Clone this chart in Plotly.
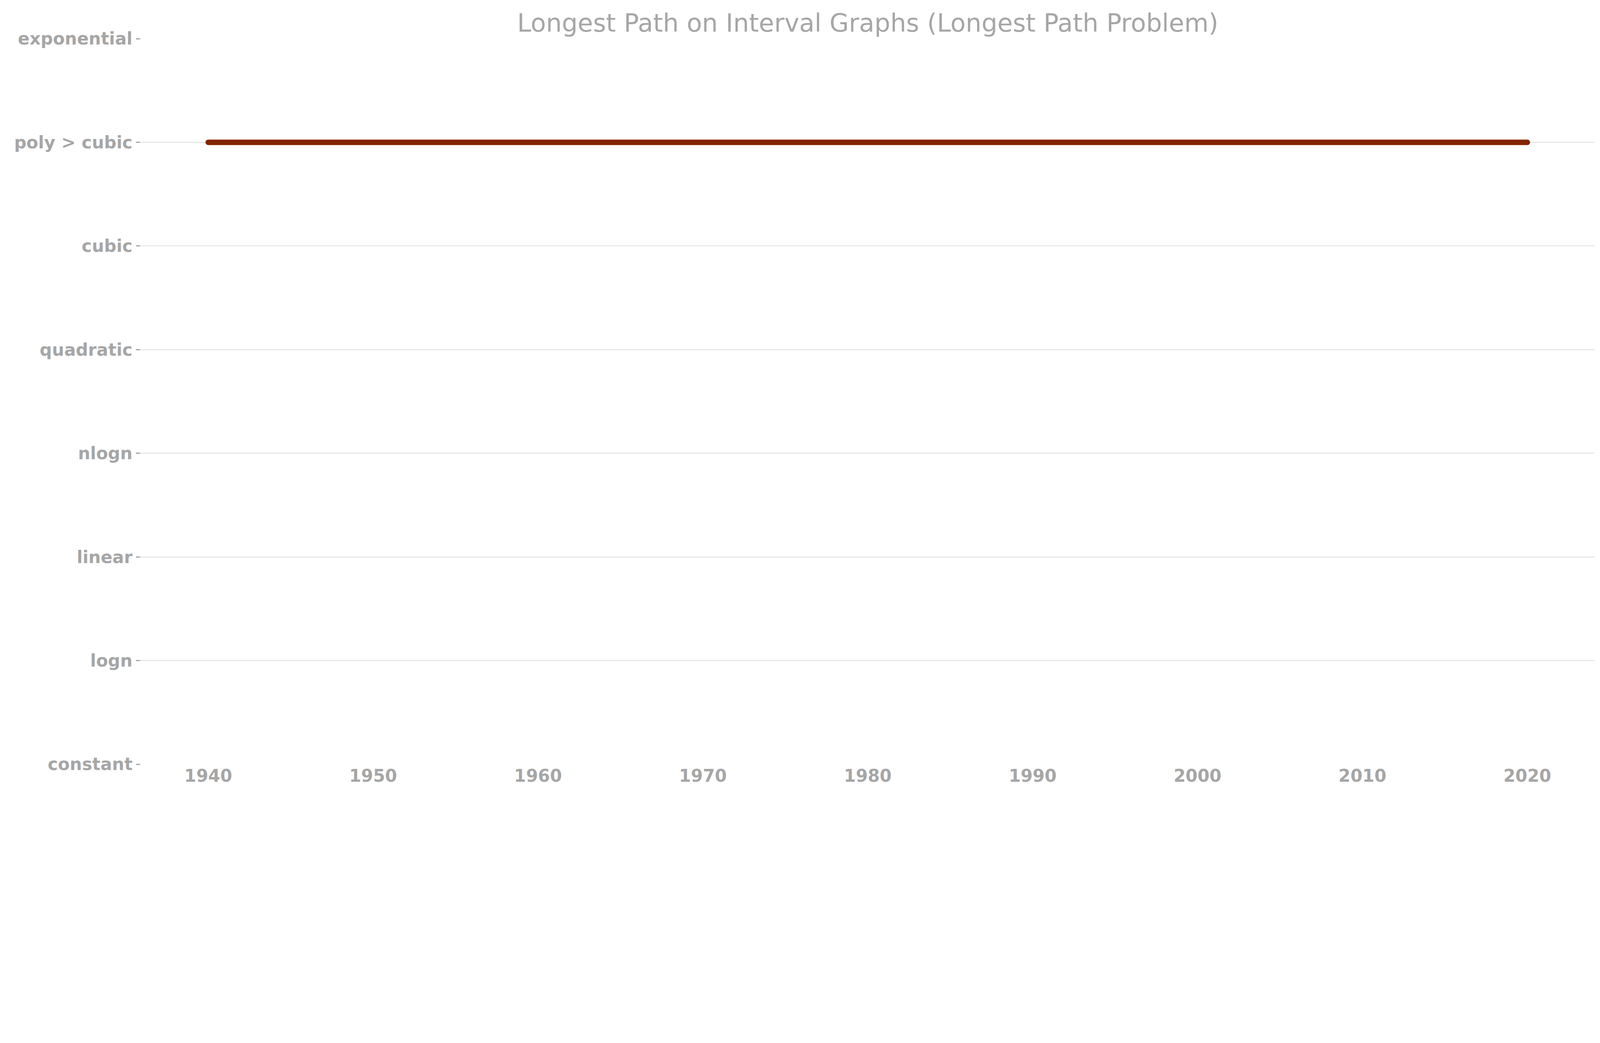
import plotly.graph_objects as go

# complexity classes, bottom to top
levels = ["constant", "logn", "linear", "nlogn", "quadratic", "cubic",
          "poly > cubic", "exponential"]

# best known running time over the years
years = [1940, 2020]
complexity = ["poly > cubic", "poly > cubic"]

grey = "#a6a6a6"
line_col = "#832400"

fig = go.Figure()
fig.add_trace(go.Scatter(
    x=years,
    y=complexity,
    mode="lines+markers",
    line=dict(color=line_col, width=14),
    marker=dict(color=line_col, size=14),
    showlegend=False,
))

fig.update_layout(
    width=4096,
    height=2037,
    paper_bgcolor="white",
    plot_bgcolor="white",
    margin=dict(l=352, r=21, t=91, b=88),
    font=dict(family="DejaVu Sans", color=grey),
    title=dict(
        text="Longest Path on Interval Graphs (Longest Path Problem)",
        xref="paper", x=0.5, xanchor="center",
        y=0.975, yanchor="middle",
        font=dict(size=64, color=grey),
    ),
)

fig.update_xaxes(
    range=[1935.9, 2024.1],
    tickvals=[1940, 1950, 1960, 1970, 1980, 1990, 2000, 2010, 2020],
    showgrid=False,
    zeroline=False,
    showline=False,
    ticks="",
    tickfont=dict(size=44, color=grey, weight="bold"),
)

fig.update_yaxes(
    type="category",
    categoryorder="array",
    categoryarray=levels,
    range=[0, 7],
    showgrid=True,
    gridcolor="#e8e8e8",
    gridwidth=2.5,
    zeroline=False,
    showline=False,
    ticks="outside",
    ticklen=11,
    tickwidth=2.5,
    tickcolor=grey,
    tickfont=dict(size=44, color=grey, weight="bold"),
)

fig.write_html("out.html")
